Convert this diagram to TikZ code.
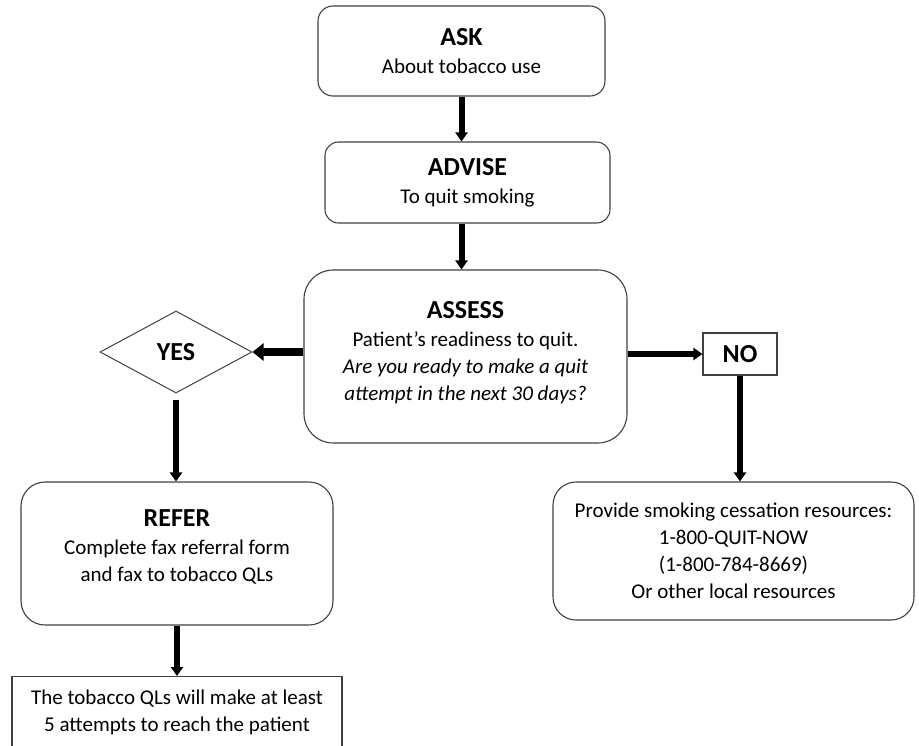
\documentclass[tikz,border=0pt]{standalone}
\usepackage{fontspec}
\setmainfont{Carlito}
\usetikzlibrary{shapes.geometric,arrows.meta}
\colorlet{boxBorder}{black!75}
\newcommand{\bodyfont}{\fontsize{21}{27}\selectfont}
\newcommand{\headfont}{\fontsize{26}{27}\selectfont\bfseries}
\tikzset{
roundbox/.style={rectangle, rounded corners=#1, draw=boxBorder, line width=1.1pt, align=center, inner sep=0pt, font=\bodyfont},
plainbox/.style={rectangle, draw=boxBorder, line width=1.1pt, align=center, inner sep=0pt, font=\bodyfont},
decision/.style={diamond, draw=boxBorder, line width=1pt, inner sep=0pt, font=\headfont},
flowarrow/.style={line width=6pt, -{Triangle[length=9pt, width=12pt]}},
bigarrow/.style={line width=8pt, -{Triangle[length=11pt, width=17pt]}}
}

\begin{document}
\begin{tikzpicture}[x=1pt, y=-1pt]
\useasboundingbox (0,0) rectangle (919,745);
\clip (0,0) rectangle (919,745);

\node [roundbox=15pt, minimum width=287pt, minimum height=90pt] (ask) at (461.5, 51) {{\headfont ASK}\\[1pt] About tobacco use};
\node [roundbox=13.5pt, minimum width=285pt, minimum height=81pt] (advise) at (467.5, 182.5) {{\headfont ADVISE}\\[1pt] To quit smoking};
\node [roundbox=29pt, minimum width=323pt, minimum height=173pt, text depth=12pt] (assess) at (465.5, 356.5) {{\headfont ASSESS}\\[1pt] Patient’s readiness to quit.\\ \itshape Are you ready to make a quit\\ \itshape attempt in the next 30 days?};

\node [decision, minimum width=152pt, minimum height=82pt, shape aspect=1.85] (yes) at (176, 352) {YES};
\node [plainbox, minimum width=74pt, minimum height=42pt, font=\headfont] (no) at (740, 354) {NO};

\node [roundbox=24pt, minimum width=312pt, minimum height=143pt, text depth=16pt] (refer) at (177, 553.5) {{\headfont REFER}\\[1pt] Complete fax referral form\\ and fax to tobacco QLs};
\node [roundbox=23pt, minimum width=361pt, minimum height=138pt] (resources) at (733.5, 551) {Provide smoking cessation resources:\\ 1-800-QUIT-NOW\\ (1-800-784-8669)\\ Or other local resources};
\node [plainbox, minimum width=330pt, minimum height=72pt, anchor=north] (quitline) at (177, 676) {The tobacco QLs will make at least\\ 5 attempts to reach the patient};

\draw [flowarrow] (ask.south) -- (ask.south |- advise.north);
\draw [flowarrow] (ask.south |- advise.south) -- (ask.south |- assess.north);
\draw [bigarrow] (assess.west |- yes.east) -- (yes.east);
\draw [flowarrow] (assess.east |- no.west) -- (no.west);
\draw [flowarrow] (no.south) -- (no.south |- resources.north);
\draw [flowarrow, shorten <=6pt] (yes.south) -- (yes.south |- refer.north);
\draw [flowarrow] (refer.south) -- (quitline.north);
\end{tikzpicture}
\end{document}
